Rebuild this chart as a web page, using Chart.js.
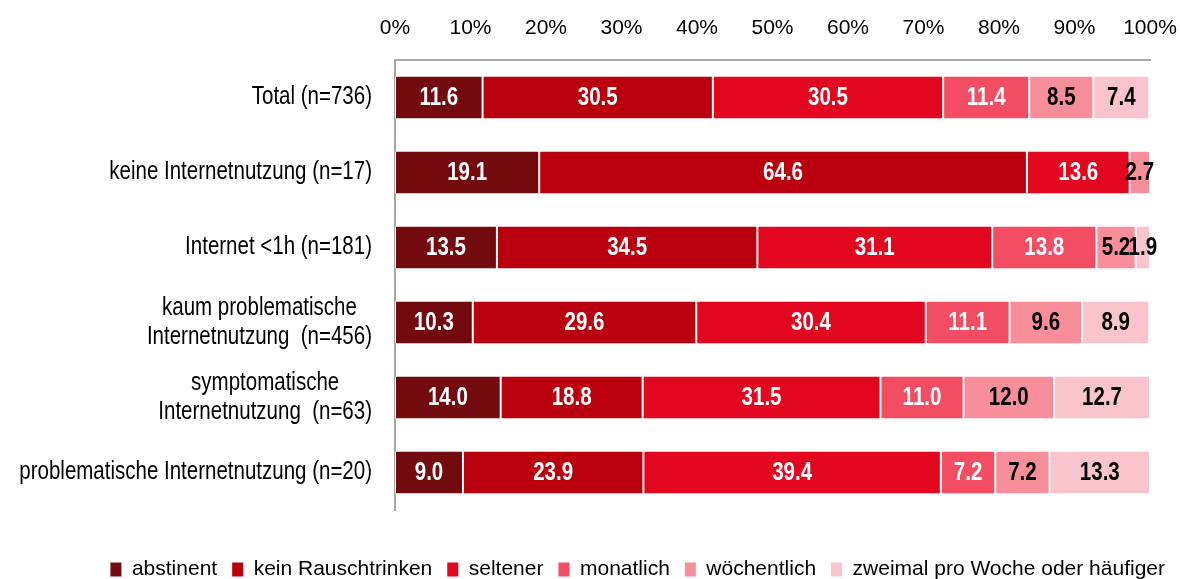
<!DOCTYPE html>
<html>
<head>
<meta charset="utf-8">
<script src="https://cdn.jsdelivr.net/npm/chart.js@4.4.1/dist/chart.umd.min.js"></script>
<style>
    body { margin: 0; background: #fff; }
</style>
</head>
<body>
<canvas id="chart-canvas" width="1180" height="579"></canvas>
<script>
const categories = [
    'Total (n=736)',
    'keine Internetnutzung (n=17)',
    'Internet <1h (n=181)',
    ['kaum problematische', 'Internetnutzung  (n=456)'],
    ['symptomatische', 'Internetnutzung  (n=63)'],
    'problematische Internetnutzung (n=20)'
];

const seriesNames = ['abstinent', 'kein Rauschtrinken', 'seltener', 'monatlich', 'wöchentlich', 'zweimal pro Woche oder häufiger'];

const abstinent = [11.6, 19.1, 13.5, 10.3, 14.0, 9.0];
const keinRauschtrinken = [30.5, 64.6, 34.5, 29.6, 18.8, 23.9];
const seltener = [30.5, 13.6, 31.1, 30.4, 31.5, 39.4];
const monatlich = [11.4, 0, 13.8, 11.1, 11.0, 7.2];
const woechentlich = [8.5, 2.7, 5.2, 9.6, 12.0, 7.2];
const zweimal = [7.4, 0, 1.9, 8.9, 12.7, 13.3];

const xTicks = [0, 10, 20, 30, 40, 50, 60, 70, 80, 90, 100];

const colors = ['#730A0E', '#BA000E', '#E3061F', '#F24D62', '#F78E9A', '#FAC4CC'];
const valueColors = ['#fff', '#fff', '#fff', '#fff', '#000', '#000'];

const fontFamily = "'Liberation Sans', Arial, sans-serif";
const narrow = 0.82;   // the original uses a narrow face; squeeze our own drawn text
const labelRight = 372;

const seriesValues = [abstinent, keinRauschtrinken, seltener, monatlich, woechentlich, zweimal];

function drawNarrow(ctx, text, x, y) {
    ctx.save();
    ctx.translate(x, y);
    ctx.scale(narrow, 1);
    ctx.fillText(text, 0, 0);
    ctx.restore();
}

// category labels: block right-aligned, lines centred on each other
const categoryLabels = {
    id: 'categoryLabels',
    afterDraw(chart) {
        const ctx = chart.ctx;
        const yScale = chart.scales.y;

        ctx.save();
        ctx.font = '25px ' + fontFamily;
        ctx.fillStyle = '#000';
        ctx.textAlign = 'center';
        ctx.textBaseline = 'middle';
        categories.forEach((label, i) => {
            const lines = Array.isArray(label) ? label : [label];
            const widest = Math.max(...lines.map(l => ctx.measureText(l).width)) * narrow;
            const cx = labelRight - widest / 2;
            const y = yScale.getPixelForValue(i);
            lines.forEach((line, j) => {
                drawNarrow(ctx, line, cx, y + (j - (lines.length - 1) / 2) * 29);
            });
        });
        ctx.restore();
    }
};

// value labels in the middle of each segment
const valueLabels = {
    id: 'valueLabels',
    afterDatasetsDraw(chart) {
        const ctx = chart.ctx;

        ctx.save();
        ctx.font = 'bold 25px ' + fontFamily;
        ctx.textAlign = 'center';
        ctx.textBaseline = 'middle';
        chart.data.datasets.forEach((ds, di) => {
            const meta = chart.getDatasetMeta(di);
            ctx.fillStyle = valueColors[di];
            meta.data.forEach((bar, i) => {
                const v = ds.data[i];
                if (!v) {
                    return;
                }
                const p = bar.getCenterPoint();
                drawNarrow(ctx, v.toFixed(1), p.x, p.y + 1);
            });
        });
        ctx.restore();
    }
};

const ctx = document.getElementById('chart-canvas').getContext('2d');

const chart = new Chart(ctx, {
    type: 'bar',
    data: {
        labels: categories,
        datasets: seriesValues.map((values, i) => ({
            label: seriesNames[i],
            data: values,
            backgroundColor: colors[i],
            borderColor: '#fff',
            borderWidth: { left: 1, right: 1, top: 0, bottom: 0 },
            borderSkipped: false,
            barPercentage: 0.56,
            categoryPercentage: 1
        }))
    },
    options: {
        indexAxis: 'y',
        responsive: false,
        animation: false,
        layout: {
            padding: 0
        },
        scales: {
            x: {
                position: 'top',
                stacked: true,
                min: 0,
                max: 100,
                afterBuildTicks: scale => {
                    scale.ticks = xTicks.map(v => ({ value: v }));
                },
                afterFit: scale => {
                    scale.height = 60;
                    scale.paddingLeft = 0;
                    scale.paddingRight = 30;
                },
                ticks: {
                    color: '#000',
                    padding: 19,
                    font: { family: fontFamily, size: 21 },
                    callback: v => v + '%'
                },
                grid: { display: false, drawTicks: false },
                border: { display: true, color: '#A6A6A6', width: 2 }
            },
            y: {
                stacked: true,
                ticks: { display: false },
                grid: { display: false, drawTicks: false },
                border: { display: true, color: '#A6A6A6', width: 2 },
                afterFit: scale => {
                    scale.width = 395;
                }
            }
        },
        plugins: {
            tooltip: { enabled: false },
            legend: {
                position: 'bottom',
                align: 'end',
                maxHeight: 69,
                title: {
                    display: true,
                    text: '',
                    font: { size: 1, lineHeight: 1 },
                    padding: { top: 33, bottom: 0 }
                },
                labels: {
                    color: '#000',
                    boxWidth: 11,
                    boxHeight: 14,
                    padding: 15,
                    font: { family: fontFamily, size: 21 },
                    generateLabels: c => Chart.defaults.plugins.legend.labels.generateLabels(c)
                        .map(l => Object.assign(l, { lineWidth: 0, strokeStyle: l.fillStyle }))
                }
            }
        }
    },
    plugins: [valueLabels, categoryLabels]
});
</script>
</body>
</html>
